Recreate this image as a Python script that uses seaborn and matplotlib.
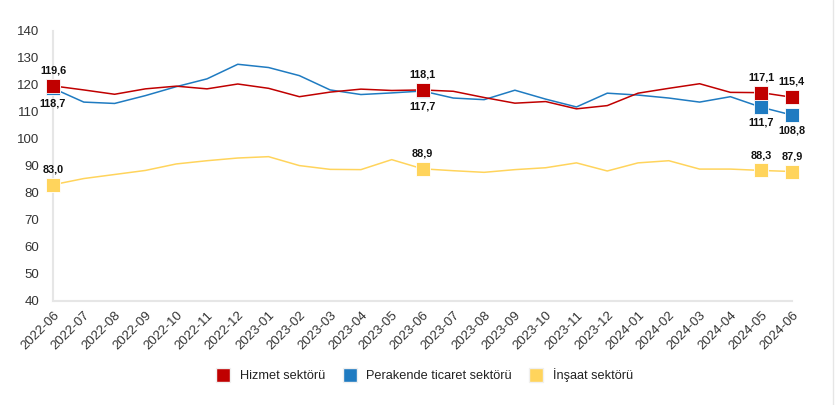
import pandas as pd
import matplotlib.pyplot as plt
import seaborn as sns
from matplotlib.lines import Line2D

MONTHS = ["2022-06", "2022-07", "2022-08", "2022-09", "2022-10", "2022-11", "2022-12",
          "2023-01", "2023-02", "2023-03", "2023-04", "2023-05", "2023-06", "2023-07",
          "2023-08", "2023-09", "2023-10", "2023-11", "2023-12", "2024-01", "2024-02",
          "2024-03", "2024-04", "2024-05", "2024-06"]

hizmet = [119.6, 118.1, 116.5, 118.5, 119.5, 118.5, 120.3, 118.7, 115.6, 117.3, 118.4, 117.9,
          118.1, 117.6, 115.3, 113.2, 113.8, 111.1, 112.3, 116.9, 118.7, 120.4, 117.2, 117.1, 115.4]
perakende = [118.7, 113.6, 113.1, 116.0, 119.3, 122.2, 127.6, 126.4, 123.4, 118.1, 116.4, 117.0,
             117.7, 115.1, 114.5, 118.0, 114.7, 111.8, 116.9, 116.2, 115.1, 113.6, 115.6, 111.7, 108.8]
insaat = [83.0, 85.3, 86.8, 88.3, 90.7, 91.9, 92.9, 93.4, 90.1, 88.7, 88.6, 92.3,
          88.9, 88.2, 87.6, 88.6, 89.3, 91.1, 88.1, 91.1, 91.9, 88.8, 88.8, 88.3, 87.9]

SERIES = ["Hizmet sektörü", "Perakende ticaret sektörü", "İnşaat sektörü"]
COLORS = {"Hizmet sektörü": "#C00000",
          "Perakende ticaret sektörü": "#1F7BC1",
          "İnşaat sektörü": "#FFD45C"}
LABEL_SIDE = {"Hizmet sektörü": 1, "Perakende ticaret sektörü": -1, "İnşaat sektörü": 1}
DRAW_ORDER = ["Perakende ticaret sektörü", "Hizmet sektörü", "İnşaat sektörü"]
MARKED = [0, 12, 23, 24]

sns.set_style("white")
plt.rcParams["font.family"] = ["Liberation Sans", "DejaVu Sans"]

df = pd.DataFrame({"idx": list(range(len(MONTHS))) * 3,
                   "value": hizmet + perakende + insaat,
                   "series": [s for s in SERIES for _ in MONTHS]})

fig = plt.figure(figsize=(8.35, 4.05), dpi=100)
ax = fig.add_axes([0.0635, 0.257, 0.885, 0.667])

sns.lineplot(data=df, x="idx", y="value", hue="series", hue_order=DRAW_ORDER,
             palette=COLORS, linewidth=1.1, legend=False, ax=ax)

for k, s in enumerate(DRAW_ORDER):
    sub = df[(df["series"] == s) & (df["idx"].isin(MARKED))]
    ax.plot(sub["idx"], sub["value"], linestyle="none", marker="s", markersize=10,
            color=COLORS[s], markeredgecolor="white", markeredgewidth=0.6,
            clip_on=False, zorder=5 + k)
    for x, v in zip(sub["idx"], sub["value"]):
        ax.annotate(f"{v:.1f}".replace(".", ","), (x, v),
                    xytext=(0, 11 * LABEL_SIDE[s]), textcoords="offset points",
                    ha="center", va="center", fontsize=7.8, fontweight="bold",
                    color="#111111", zorder=10)

ax.set_xlim(0, len(MONTHS) - 1)
ax.set_ylim(40, 140)
ax.set_yticks(range(40, 141, 10))
ax.set_xticks(range(len(MONTHS)))
ax.set_xticklabels(MONTHS, rotation=45, ha="right", rotation_mode="anchor")
ax.tick_params(axis="both", labelsize=9.5, colors="#333333", length=0)
ax.tick_params(axis="y", pad=10)
ax.tick_params(axis="x", pad=6)
ax.set_xlabel("")
ax.set_ylabel("")
for side in ["top", "right"]:
    ax.spines[side].set_visible(False)
for side in ["left", "bottom"]:
    ax.spines[side].set_color("#E6E6E6")
    ax.spines[side].set_linewidth(1.5)

handles = [Line2D([], [], linestyle="none", marker="s", markersize=10,
                  color=COLORS[s], markeredgecolor="#f0f0f0") for s in SERIES]
fig.legend(handles, SERIES, loc="center", bbox_to_anchor=(0.505, 0.074), ncol=3,
           frameon=False, fontsize=9.2, handletextpad=0.3, columnspacing=0.9,
           labelcolor="#222222")

fig.add_artist(Line2D([0.9975, 0.9975], [0, 1], color="#E6E6E6", linewidth=1))

fig.savefig("out.png", dpi=100)
